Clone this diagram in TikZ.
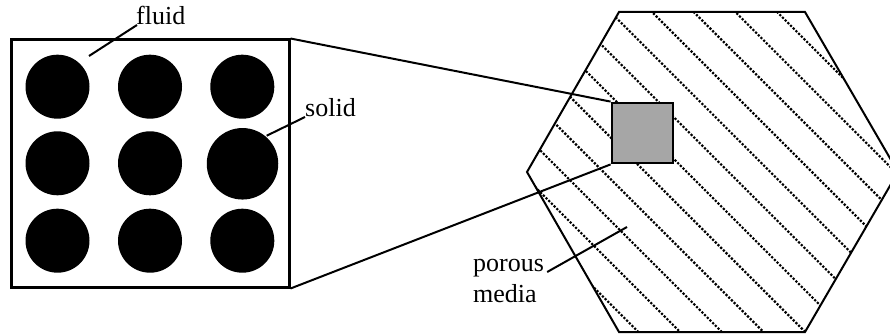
\documentclass[tikz,border=0pt]{standalone}
\usepackage{fontspec}
\setmainfont{Liberation Serif}
\begin{document}
\begin{tikzpicture}[x=1pt,y=-1pt,
  grain/.style={circle,fill=black,minimum size=64pt,inner sep=0pt},
  lbl/.style={inner sep=0pt,font=\fontsize{26}{30}\selectfont},
  hatchline/.style={line width=2.2pt,dash pattern=on 2.2pt off 1.6pt},
  edge/.style={line width=2pt},
  leader/.style={line width=2pt}]
\clip (0,0) rectangle (890,336);
\fill[white] (0,0) rectangle (890,336);
% hatching inside hexagon
\begin{scope}
\clip (619,12) -- (805,12) -- (898,172) -- (805,332) -- (619,332) -- (527,172) -- cycle;
\foreach \k in {-5,...,9}{
  \pgfmathsetmacro{\c}{-640+41.7*\k}
  \draw[hatchline] (500,500+\c) -- (950,950+\c);
}
\end{scope}
\draw[edge,line join=miter] (619,12) -- (805,12) -- (898,172) -- (805,332) -- (619,332) -- (527,172) -- cycle;
% left box with grains
\node[draw,line width=3pt,minimum width=278pt,minimum height=247pt,inner sep=0pt] (box) at (150,163.5) {};
\node[grain] (g11) at (57.5,86.7) {};
\node[grain] (g12) at (150,86.7) {};
\node[grain] (g13) at (242.3,86.7) {};
\node[grain] (g21) at (57.5,163.3) {};
\node[grain] (g22) at (150,163.3) {};
\node[grain,minimum size=71.5pt] (g23) at (242.5,163.8) {};
\node[grain] (g31) at (57.5,240.7) {};
\node[grain] (g32) at (150,240.7) {};
\node[grain] (g33) at (242.3,240.7) {};
% zoomed region
\node[draw,line width=2.8pt,fill=black!35,minimum width=61pt,minimum height=60pt,inner sep=0pt] (zoom) at (642.5,133) {};
\draw[leader] (box.north east) -- (zoom.north west);
\draw[leader] (box.south east) -- (zoom.south west);
% labels
\node[lbl,anchor=base west] (fluid) at (136,25) {fluid};
\node[lbl,anchor=base west] (solid) at (305,117) {solid};
\node[lbl,anchor=base west] (porous) at (473,272) {porous};
\node[lbl,anchor=base west] (media) at (473,302) {media};
\coordinate (fluidpt) at (89,56);
\coordinate (solidpt) at (266.7,135.7);
\coordinate (porouspt) at (627,227);
\draw[leader] (fluidpt) -- ([xshift=1pt]fluid.base west);
\draw[leader] (solidpt) -- (solid.base west);
\draw[leader] ([xshift=3pt]porous.base east) -- (porouspt);
\end{tikzpicture}
\end{document}
